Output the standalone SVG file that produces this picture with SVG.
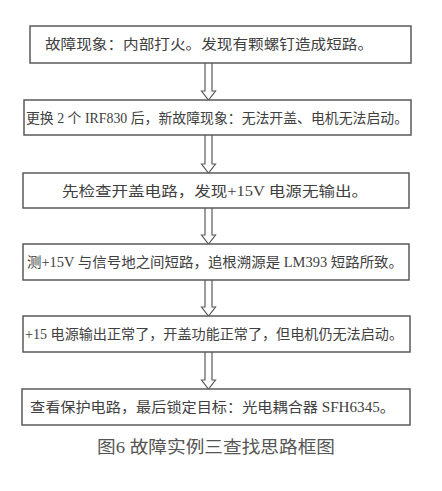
<svg xmlns="http://www.w3.org/2000/svg" width="442" height="491" viewBox="0 0 442 491">
<style>
.box{fill:#fff;stroke:#5a5a5a;stroke-width:1.5}
.t{font-family:"Liberation Serif","Noto Sans CJK SC",serif;font-size:14px;fill:#404040;dominant-baseline:central}
.arr{fill:#fff;stroke:#5a5a5a;stroke-width:1.2;stroke-linejoin:miter}
.cap{font-family:"Liberation Serif","Noto Sans CJK SC",serif;font-size:17px;fill:#555;dominant-baseline:central;text-anchor:middle}
</style>
<rect width="442" height="491" fill="#fff"/>
<g id="connectors">
<path class="arr" d="M205,63 V91 H201.5 L208.5,100 L215.5,91 H212 V63"/>
<path class="arr" d="M205,135 V164 H201.5 L208.5,173 L215.5,164 H212 V135"/>
<path class="arr" d="M205,208 V235 H201.5 L208.5,244 L215.5,235 H212 V208"/>
<path class="arr" d="M205,280 V307 H201.5 L208.5,316 L215.5,307 H212 V280"/>
<path class="arr" d="M205,352 V380 H201.5 L208.5,389 L215.5,380 H212 V352"/>
</g>
<g id="n1"><rect class="box" x="30" y="26" width="381" height="37"/>
<text class="t" x="45" y="44.5" textLength="328" lengthAdjust="spacingAndGlyphs">故障现象：内部打火。发现有颗螺钉造成短路。</text></g>
<g id="n2"><rect class="box" x="24" y="100" width="387" height="35"/>
<text class="t" x="26" y="118" textLength="382" lengthAdjust="spacingAndGlyphs">更换 2 个 IRF830 后，新故障现象：无法开盖、电机无法启动。</text></g>
<g id="n3"><rect class="box" x="23" y="173" width="386" height="35"/>
<text class="t" x="62" y="191" textLength="306" lengthAdjust="spacingAndGlyphs">先检查开盖电路，发现+15V 电源无输出。</text></g>
<g id="n4"><rect class="box" x="23" y="244" width="386" height="36"/>
<text class="t" x="27" y="262" textLength="376" lengthAdjust="spacingAndGlyphs">测+15V 与信号地之间短路，追根溯源是 LM393 短路所致。</text></g>
<g id="n5"><rect class="box" x="23" y="316" width="387" height="36"/>
<text class="t" x="25" y="334" textLength="378" lengthAdjust="spacingAndGlyphs">+15 电源输出正常了，开盖功能正常了，但电机仍无法启动。</text></g>
<g id="n6"><rect class="box" x="22" y="389" width="388" height="36"/>
<text class="t" x="30" y="407" textLength="365" lengthAdjust="spacingAndGlyphs">查看保护电路，最后锁定目标：光电耦合器 SFH6345。</text></g>
<text class="cap" x="216" y="447" textLength="238" lengthAdjust="spacingAndGlyphs">图6 故障实例三查找思路框图</text>
</svg>
